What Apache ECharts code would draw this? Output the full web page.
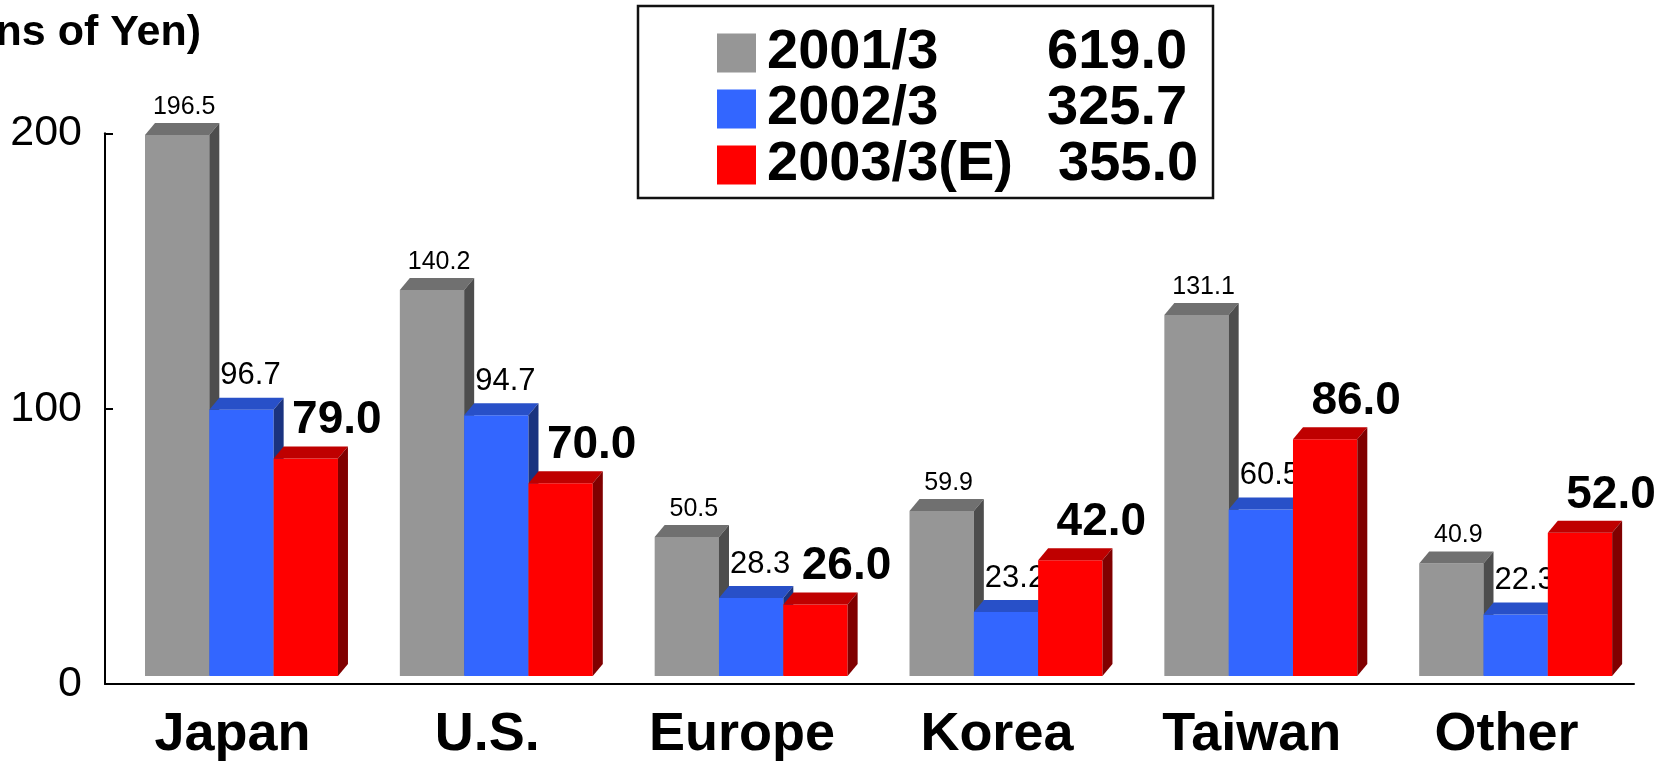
<!DOCTYPE html>
<html><head><meta charset="utf-8">
<script src="https://cdn.jsdelivr.net/npm/echarts@6/dist/echarts.min.js"></script>
<style>html,body{margin:0;padding:0;background:#fff}#c{width:1673px;height:762px}</style>
</head><body><div id="c"></div>
<script>
// ---- data ----
const categories = ['Japan', 'U.S.', 'Europe', 'Korea', 'Taiwan', 'Other'];
const seriesNames = ['2001/3', '2002/3', '2003/3(E)'];
const values2001 = [196.5, 140.2, 50.5, 59.9, 131.1, 40.9];
const values2002 = [96.7, 94.7, 28.3, 23.2, 60.5, 22.3];
const values2003 = [79.0, 70.0, 26.0, 42.0, 86.0, 52.0];
const legendTotals = ['619.0', '325.7', '355.0'];
const yAxisMin = 0, yAxisMax = 200, yAxisStep = 100;
const unitTitle = '(Billions of Yen)';

// ---- style ----
const FONT = "'Liberation Sans', Arial, Helvetica, sans-serif";
const STYLE = [
  { front: '#969696', top: '#707070', side: '#4d4d4d', ldx: 2, lup: 16, size: 25, weight: 'normal' },
  { front: '#3366ff', top: '#2850c8', side: '#1a3380', ldx: 4, lup: 22, size: 31, weight: 'normal' },
  { front: '#ff0000', top: '#bf0000', side: '#800000', ldx: 26, lup: 26, size: 46, weight: 'bold' }
];
const allValues = [values2001, values2002, values2003];

function makeRender(s) {
  const st = STYLE[s];
  return function (params, api) {
    const cat = api.value(0), val = api.value(1);
    const base = api.coord([cat, 0]);
    const top = api.coord([cat, val]);
    const bw = api.size([1, 0])[0];
    const w = bw * 0.2524;
    const x = base[0] - bw / 2 + bw * 0.157 + s * w;
    const lift = 8, dx = 10, dy = 12;
    const yb = base[1] - lift, yt = top[1] - lift;
    return {
      type: 'group',
      children: [
        { type: 'rect', shape: { x: x, y: yt, width: w, height: yb - yt }, style: { fill: st.front } },
        { type: 'polygon', shape: { points: [[x, yt], [x + dx, yt - dy], [x + w + dx, yt - dy], [x + w, yt]] }, style: { fill: st.top } },
        { type: 'polygon', shape: { points: [[x + w, yt], [x + w + dx, yt - dy], [x + w + dx, yb - dy], [x + w, yb]] }, style: { fill: st.side } },
        { type: 'text', x: x + (w + dx) / 2 + st.ldx, y: yt - dy - st.lup, z2: 10,
          style: { text: val.toFixed(1), align: 'center', verticalAlign: 'middle',
                   fontSize: st.size, fontWeight: st.weight, fontFamily: FONT, fill: '#000' } }
      ]
    };
  };
}

const chart = echarts.init(document.getElementById('c'), null, { renderer: 'canvas' });
const richBase = { fontSize: 56, fontWeight: 'bold', fontFamily: FONT, color: '#000', lineHeight: 39 };
chart.setOption({
  backgroundColor: '#fff',
  animation: false,
  grid: { left: 105, right: 39, top: 133.3, bottom: 78, containLabel: false },
  xAxis: {
    type: 'category', data: categories, boundaryGap: true,
    axisLine: { lineStyle: { color: '#000', width: 2 } },
    axisTick: { inside: true, length: 8, lineStyle: { color: '#000', width: 2 } },
    axisLabel: { fontSize: 54, fontWeight: 'bold', fontFamily: FONT, color: '#000', margin: 24 }
  },
  yAxis: {
    type: 'value', min: yAxisMin, max: yAxisMax, interval: yAxisStep,
    axisLine: { show: true, lineStyle: { color: '#000', width: 2 } },
    axisTick: { show: true, inside: true, length: 8, lineStyle: { color: '#000', width: 2 } },
    splitLine: { show: false },
    axisLabel: { fontSize: 43, fontFamily: FONT, color: '#000', margin: 23, padding: [14, 0, 0, 0] }
  },
  legend: {
    orient: 'vertical', left: 712, top: 20, itemWidth: 39, itemHeight: 39, itemGap: 0,
    selectedMode: false, icon: 'rect', data: seriesNames,
    formatter: function (name) {
      const i = seriesNames.indexOf(name);
      return '{' + (i === 2 ? 'n3' : 'n') + '|' + name + '}{v|' + legendTotals[i] + '}';
    },
    textStyle: Object.assign({}, richBase, {
      rich: {
        n: Object.assign({}, richBase, { width: 280, padding: [0, 0, 0, 6] }),
        n3: Object.assign({}, richBase, { width: 291, padding: [0, 0, 0, 6] }),
        v: Object.assign({}, richBase)
      }
    })
  },
  graphic: [
    { type: 'rect', shape: { x: 638, y: 6, width: 575, height: 192 }, style: { fill: 'none', stroke: '#111', lineWidth: 2.5 }, z: 1 },
    { type: 'text', x: 201, y: 33, style: { text: unitTitle, align: 'right', verticalAlign: 'middle', fontSize: 43, fontWeight: 'bold', fontFamily: FONT, fill: '#000' } }
  ],
  series: seriesNames.map(function (name, s) {
    return {
      type: 'custom', name: name,
      itemStyle: { color: STYLE[s].front },
      renderItem: makeRender(s),
      encode: { x: 0, y: 1 },
      data: allValues[s].map(function (v, i) { return [i, v]; }),
      z: 2 + s
    };
  })
});
</script>
</body></html>
